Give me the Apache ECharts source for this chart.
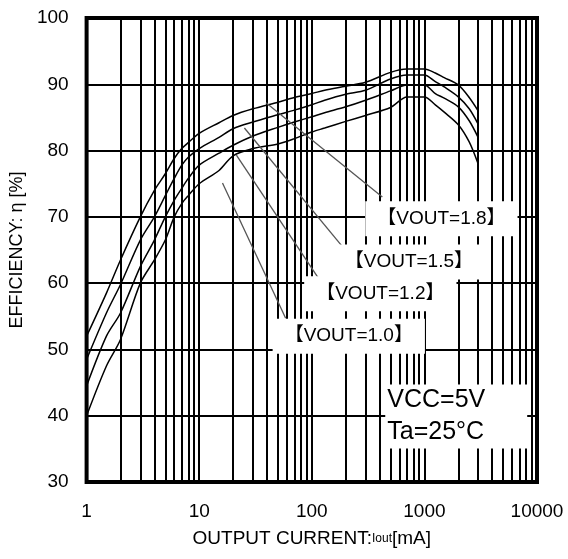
<!DOCTYPE html>
<html>
<head>
<meta charset="utf-8">
<script src="https://cdn.jsdelivr.net/npm/echarts@6/dist/echarts.min.js"></script>
<style>
    body { margin: 0; background: #fff; }
    #chartDiv { width: 568px; height: 559px; }
</style>
</head>
<body>
<div id="chartDiv"></div>
<script>
    // output current [mA], shared by all curves
    var currents = [1, 1.5, 2, 3, 4, 5, 6, 7, 8, 10, 15, 20, 30, 50, 70, 100, 130, 200, 300, 500, 700, 1000, 1250, 1500, 2000, 2500, 3000];
    // efficiency [%]
    var eff18 = [52, 58.5, 63.5, 70, 74, 76.5, 78.8, 80.3, 81.2, 82.6, 84.2, 85.3, 86.3, 87.3, 88, 88.6, 89.1, 89.7, 90.3, 91.8, 92.3, 92.3, 91.7, 91, 89.9, 88, 86];
    var eff15 = [48.5, 55.5, 59.8, 66.5, 70, 73.2, 75.8, 77.8, 79, 80.3, 82, 83.3, 84.3, 85.4, 86.1, 86.9, 87.6, 88.5, 89.1, 90.8, 91.4, 91.4, 90.4, 89.6, 88.1, 86.3, 84];
    var eff12 = [44.5, 52, 55.5, 62.5, 66.5, 70, 72.5, 74.3, 75.8, 77.8, 79.6, 80.8, 82.2, 83.5, 84.3, 85.1, 85.7, 86.6, 87.6, 89, 89.9, 89.9, 88.6, 87.9, 86.6, 84.5, 82];
    var eff10 = [40, 47.5, 51.5, 60, 63.5, 66.5, 70, 72, 73.2, 75, 77, 79.2, 80.3, 81, 81.8, 82.8, 83.4, 84.4, 85.3, 86.5, 88.1, 88.1, 86.9, 85.8, 83.9, 81.3, 78];
    var curveNames = ['VOUT=1.8', 'VOUT=1.5', 'VOUT=1.2', 'VOUT=1.0'];

    // log grid lines between decades
    var minorTicks = [2, 3, 4, 5, 6, 7, 8, 9, 20, 30, 40, 50, 60, 70, 80, 90, 200, 300, 400, 500, 600, 700, 800, 900, 2000, 3000, 4000, 5000, 6000, 7000, 8000, 9000];

    // callouts: label centre, leader line start (at curve) and end (at label)
    var labelPos = [[1416, 69.7], [728, 63.2], [406, 58.4], [213, 52.0]];
    var leaderFrom = [[39.2, 87.2], [25.2, 83.4], [21.4, 79.3], [16.1, 75.1]];
    var leaderTo = [[423, 73.0], [217, 64.2], [114, 60.8], [58.6, 54.7]];
    var condPos = [449, 39.9];
    var condText = ['VCC=5V', 'Ta=25°C'];

    var font = '"Liberation Sans", Arial, "Noto Sans CJK JP", sans-serif';

    function zip(xs, ys) {
        return xs.map(function (x, i) { return [x, ys[i]]; });
    }

    var curves = [eff18, eff15, eff12, eff10].map(function (ys, i) {
        return {
            name: curveNames[i],
            type: 'line',
            data: zip(currents, ys),
            showSymbol: false,
            smooth: 0.3,
            lineStyle: { color: '#000', width: 1.5 },
            z: 3
        };
    });

    var option = {
        animation: false,
        textStyle: { fontFamily: font },
        grid: { left: 80, right: 31, top: 18, bottom: 77, show: true, borderColor: '#000', borderWidth: 4 },
        xAxis: {
            type: 'log', logBase: 10, min: 1, max: 10000,
            axisLine: { show: false }, axisTick: { show: false },
            axisLabel: {
                fontSize: 19, color: '#000', margin: 20, fontFamily: font,
                formatter: function (v) { return String(Math.round(v)); }
            },
            splitLine: { show: true, lineStyle: { color: '#000', width: 2 } },
            name: 'OUTPUT CURRENT:{s|Iout}[mA]',
            nameLocation: 'middle', nameGap: 47,
            nameTextStyle: { fontSize: 19, color: '#000', fontFamily: font, rich: { s: { fontSize: 12, color: '#000', fontFamily: font } } }
        },
        yAxis: {
            type: 'value', min: 30, max: 100, interval: 10,
            axisLine: { show: false }, axisTick: { show: false },
            axisLabel: { fontSize: 19, color: '#000', margin: 18, fontFamily: font },
            splitLine: { show: true, lineStyle: { color: '#000', width: 2 } },
            name: 'EFFICIENCY: η [%]',
            nameLocation: 'middle', nameGap: 55,
            nameTextStyle: { fontSize: 18, color: '#000', fontFamily: font }
        },
        series: [
            {
                type: 'line', data: [], z: 1,
                markLine: {
                    silent: true, symbol: ['none', 'none'], label: { show: false },
                    lineStyle: { color: '#000', width: 2, type: 'solid' },
                    data: minorTicks.map(function (v) { return { xAxis: v }; })
                }
            }
        ].concat(curves).concat([
            {
                type: 'line', data: [], z: 4,
                markLine: {
                    silent: true, symbol: ['none', 'none'], label: { show: false },
                    lineStyle: { color: '#555', width: 1.3, type: 'solid' },
                    data: leaderFrom.map(function (p, i) {
                        return [{ coord: p }, { coord: leaderTo[i] }];
                    })
                }
            },
            {
                type: 'scatter', symbolSize: 0, z: 10,
                itemStyle: { opacity: 1 },
                labelLayout: { hideOverlap: false },
                data: labelPos.map(function (p, i) { return { name: curveNames[i], value: p }; }),
                label: {
                    show: true, position: 'inside', formatter: '【{b}】', opacity: 1,
                    fontSize: 19, color: '#000', fontFamily: font,
                    backgroundColor: '#fff', padding: [8, 12]
                }
            },
            {
                type: 'scatter', symbolSize: 0, z: 10,
                itemStyle: { opacity: 1 },
                data: [condPos],
                label: {
                    show: true, position: 'right', distance: 0, opacity: 1,
                    formatter: condText.join('\n'),
                    fontSize: 25, lineHeight: 32, color: '#000', fontFamily: font,
                    backgroundColor: '#fff', padding: [0, 42, 0, 2]
                }
            }
        ])
    };

    var chart = echarts.init(document.getElementById('chartDiv'));
    chart.setOption(option);
</script>
</body>
</html>
